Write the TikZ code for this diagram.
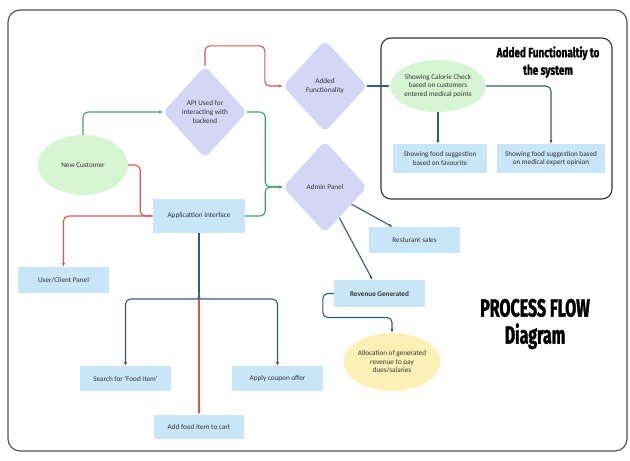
\documentclass[tikz,border=0pt]{standalone}
\usepackage{fontspec}
\setmainfont{Carlito}
\newfontfamily\titlefont[FakeStretch=0.74,FakeBold=1.2]{Fira Sans}
\newfontfamily\bigtitlefont[FakeStretch=0.64,FakeBold=1.4]{Fira Sans}
\usetikzlibrary{shapes.geometric,arrows.meta}
\definecolor{frameC}{HTML}{555555}
\definecolor{greenF}{HTML}{D6F5D3}
\definecolor{lavF}{HTML}{D5D5F6}
\definecolor{blueF}{HTML}{C9E5F8}
\definecolor{yelF}{HTML}{FBF1B5}
\definecolor{greenL}{HTML}{3F9F6C}
\definecolor{redL}{HTML}{D4574F}
\definecolor{blueL}{HTML}{2F5A85}
\definecolor{txtC}{HTML}{333333}
\begin{document}
\begin{tikzpicture}[x=1pt,y=-1pt,
  font=\fontsize{7.2}{8.6}\selectfont, text=txtC,
  ell/.style={ellipse, draw=none, inner sep=0pt, align=center},
  dia/.style={diamond, draw=none, fill=lavF, inner sep=0pt, minimum width=84pt, minimum height=92pt, rounded corners=6pt, align=center},
  box/.style={rectangle, draw=none, fill=blueF, inner sep=0pt, align=center},
  arr/.style={-{Latex[length=3.6pt,width=3pt]}},
  gl/.style={draw=greenL, line width=1.1pt, rounded corners=5pt},
  rl/.style={draw=redL, line width=1.1pt, rounded corners=5pt},
  bl/.style={draw=blueL, line width=1.1pt, rounded corners=5pt},
  ttl/.style={text=black, align=center}
]
\useasboundingbox (0,0) rectangle (630,461);
\fill[white] (0,0) rectangle (630,461);
\draw[frameC, line width=1.2pt, rounded corners=12pt] (8,10) rectangle (627,451);
\draw[black!80, line width=1.1pt, rounded corners=10pt] (381,38) rectangle (612,199);

% nodes
\node[ell, fill=greenF, minimum width=90pt, minimum height=60pt] (nc) at (83,165) {New Customer};
\node[dia] (api) at (205,112) {API Used for\\interacting with\\backend};
\node[dia] (af) at (325,86) {Added\\Functionality};
\node[dia] (ap) at (325,187) {Admin Panel};
\node[box, minimum width=92pt, minimum height=34pt] (app) at (199,216) {Applicattion Interface};
\node[box, minimum width=91pt, minimum height=26pt] (ucp) at (63.5,280) {User/Client Panel};
\node[box, minimum width=91pt, minimum height=25pt] (srch) at (125.5,378.5) {Search for `Food Item'};
\node[box, minimum width=91pt, minimum height=25pt] (apply) at (277.5,378.5) {Apply coupon offer};
\node[box, minimum width=90pt, minimum height=24pt] (add) at (199,427) {Add food Item to cart};
\node[box, minimum width=91pt, minimum height=26pt] (rs) at (414.5,240) {Resturant sales};
\node[box, minimum width=91pt, minimum height=27pt, font=\fontsize{7.2}{8.6}\selectfont\bfseries] (rev) at (379.5,293.5) {Revenue Generated};
\node[ell, fill=yelF, minimum width=90pt, minimum height=58pt] (alloc) at (392,362) {Allocation of generated\\revenue to pay\\dues/salaries};
\node[ell, fill=greenF, minimum width=90pt, minimum height=52pt] (cal) at (438,86) {Showing Calorie Check\\based on customers\\entered medical points};
\node[box, minimum width=94pt, minimum height=29pt] (fav) at (440,158.5) {Showing food suggestion\\based on favourite};
\node[box, minimum width=108pt, minimum height=29pt] (med) at (551,158.5) {Showing food suggestion based\\on medical expert opinion};

\node[ttl, font=\titlefont\bfseries\fontsize{13.5}{17.5}\selectfont] (t1) at (548,62) {Added Functionaltiy to\\the system};
\node[ttl, font=\bigtitlefont\bfseries\fontsize{25}{27}\selectfont] (t2) at (535,324) {PROCESS FLOW\\Diagram};

% connectors
\draw[gl,arr] (nc.north) |- (api.west);
\draw[gl,arr] (api.east) -- ++(18,0) |- (ap.west);
\draw[gl,arr] (app.east) -- ++(20,0) |- (ap.west);
\draw[rl,arr] (api.north) -- ++(0,-20) -| ([xshift=-18pt]af.west) -- (af.west);
\draw[rl,arr] (nc.east) -- ++(12,0) |- (app.west);
\draw[rl,arr] (app.west) -| (ucp.north);

\coordinate (bt) at (199,293);
\coordinate (rt) at (199,298);
\draw[rl,arr] (rt) -- (add.north);
\draw[bl] (app.south) -- (bt);
\draw[bl,arr] (bt) .. controls (199,297) and (197,299) .. (193,299) -| (srch.north);
\draw[bl,arr] (bt) .. controls (199,297) and (201,299) .. (205,299) -| (apply.north);

\draw[bl,arr] (af.east) -- (cal.west);
\draw[bl,arr] (cal.south) -- (cal.south |- fav.north);
\draw[bl,arr] (cal.east) -| (med.north);
\draw[bl,arr] (ap.-33) -- ([xshift=-22pt]rs.north);
\draw[bl,arr] (ap.-65) -- ([xshift=-7pt]rev.north);
\draw[bl,arr] (rev.west) -- ++(-11,0) -- ++(0,24) -| (alloc.north);
\end{tikzpicture}
\end{document}
